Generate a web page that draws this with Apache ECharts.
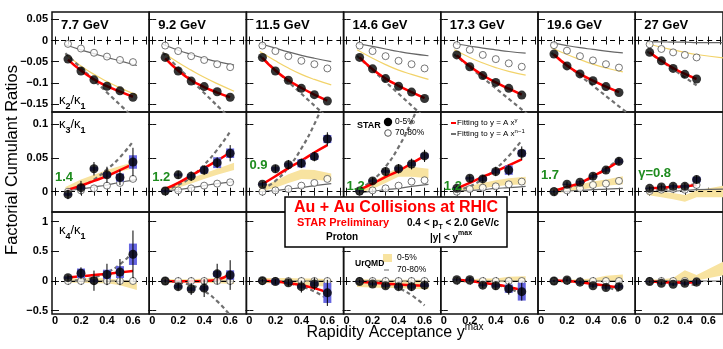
<!DOCTYPE html>
<html>
<head>
<meta charset="utf-8">
<script src="https://cdn.jsdelivr.net/npm/echarts@6/dist/echarts.min.js"></script>
<style>
html, body { margin: 0; background: #fff; }
#chart { width: 723px; height: 349px; }
</style>
</head>
<body>
<div id="chart"></div>
<script>
// collision energies (columns) and fitted exponents shown in the middle row
const energies = ['7.7 GeV', '9.2 GeV', '11.5 GeV', '14.6 GeV', '17.3 GeV', '19.6 GeV', '27 GeV'];
const gammaLabels = ['1.4', '1.2', '0.9', '1.2', '1.2', '1.7', 'γ=0.8'];

// rapidity acceptance points
const yMaxPoints = [0.1, 0.2, 0.3, 0.4, 0.5, 0.6];
const urqmdX = [0.08, 0.2, 0.3, 0.4, 0.5, 0.63];
const urqmdX27 = [0.08, 0.2, 0.3, 0.4, 0.5, 0.73];
const k21PowerX = [0.08, 0.7];
const k21PowerX27 = [0.08, 0.5];

// axis ticks
const xTicks = [0, 0.1, 0.2, 0.3, 0.4, 0.5, 0.6, 0.7];
const xLabels = [0, 0.2, 0.4, 0.6];
const yTicks = [[-0.15, -0.1, -0.05, 0, 0.05], [0, 0.05, 0.1], [-0.5, 0, 0.5, 1]];

// ---- kappa2 / kappa1 ----
const k21Central = [
  [-0.044, -0.072, -0.093, -0.108, -0.119, -0.134],
  [-0.040, -0.072, -0.096, -0.109, -0.121, -0.134],
  [-0.040, -0.072, -0.094, -0.113, -0.128, -0.143],
  [-0.040, -0.067, -0.090, -0.108, -0.122, -0.137],
  [-0.034, -0.062, -0.083, -0.099, -0.113, -0.129],
  [-0.032, -0.060, -0.079, -0.095, -0.109, -0.123],
  [-0.028, -0.048, -0.066, -0.080, -0.091]
];
const k21Peripheral = [
  [-0.008, -0.019, -0.029, -0.038, -0.046, -0.051],
  [-0.012, -0.025, -0.037, -0.046, -0.056, -0.063],
  [-0.012, -0.025, -0.037, -0.048, -0.056, -0.066],
  [-0.012, -0.025, -0.037, -0.048, -0.056, -0.066],
  [-0.011, -0.022, -0.034, -0.044, -0.054, -0.062],
  [-0.011, -0.024, -0.037, -0.047, -0.056, -0.064],
  [-0.009, -0.020, -0.028, -0.034, -0.040]
];
const k21Fit = [
  [-0.045, -0.071, -0.092, -0.108, -0.121, -0.133],
  [-0.042, -0.071, -0.094, -0.110, -0.123, -0.134],
  [-0.041, -0.071, -0.094, -0.112, -0.128, -0.142],
  [-0.040, -0.068, -0.090, -0.107, -0.122, -0.136],
  [-0.035, -0.061, -0.082, -0.099, -0.114, -0.128],
  [-0.033, -0.059, -0.079, -0.095, -0.109, -0.122],
  [-0.028, -0.048, -0.065, -0.079, -0.091]
];
const k21Power = [
  [-0.030, -0.210], [-0.028, -0.214], [-0.036, -0.210], [-0.036, -0.210],
  [-0.033, -0.188], [-0.029, -0.180], [-0.026, -0.106]
];
const k21UrqmdPeri = [
  [-0.010, -0.022, -0.031, -0.040, -0.048, -0.059],
  [-0.009, -0.023, -0.033, -0.042, -0.050, -0.058],
  [-0.007, -0.018, -0.027, -0.035, -0.042, -0.050],
  [-0.007, -0.014, -0.020, -0.026, -0.031, -0.036],
  [-0.007, -0.013, -0.018, -0.022, -0.026, -0.030],
  [-0.005, -0.012, -0.017, -0.021, -0.025, -0.029],
  [-0.003, -0.003, -0.004, -0.004, -0.005, -0.005]
];
const k21UrqmdCentral = [
  [-0.032, -0.060, -0.080, -0.097, -0.112, -0.129],
  [-0.028, -0.052, -0.070, -0.087, -0.102, -0.120],
  [-0.026, -0.048, -0.065, -0.080, -0.092, -0.105],
  [-0.022, -0.042, -0.057, -0.070, -0.080, -0.092],
  [-0.022, -0.040, -0.053, -0.064, -0.073, -0.082],
  [-0.017, -0.033, -0.045, -0.056, -0.065, -0.074],
  [-0.007, -0.016, -0.022, -0.028, -0.033, -0.041]
];

// ---- kappa3 / kappa1 ----
const k31Central = [
  [-0.004, 0.006, 0.034, 0.025, 0.021, 0.044],
  [0.001, 0.025, 0.023, 0.032, 0.043, 0.057],
  [0.011, 0.034, 0.040, 0.042, 0.052, 0.078],
  [0.001, 0.016, 0.030, 0.034, 0.041, 0.053],
  [0.005, 0.020, 0.019, 0.030, 0.032, 0.057],
  [0.000, 0.011, 0.014, 0.023, 0.032, 0.045],
  [0.005, 0.007, 0.008, 0.008, 0.018]
];
const k31Stat = [
  [0.007, 0.010, 0.010, 0.012, 0.011, 0.021],
  [0.004, 0.006, 0.007, 0.007, 0.008, 0.012],
  [0.004, 0.006, 0.007, 0.007, 0.007, 0.010],
  [0.004, 0.005, 0.006, 0.007, 0.008, 0.009],
  [0.004, 0.005, 0.006, 0.007, 0.008, 0.010],
  [0.003, 0.004, 0.004, 0.005, 0.005, 0.006],
  [0.003, 0.004, 0.004, 0.005, 0.006]
];
const k31Sys = [
  [0.002, 0.003, 0.003, 0.004, 0.006, 0.010],
  [0.002, 0.002, 0.003, 0.005, 0.008, 0.007],
  [0.002, 0.003, 0.003, 0.006, 0.005, 0.006],
  [0.001, 0.002, 0.002, 0.003, 0.003, 0.004],
  [0.002, 0.002, 0.003, 0.003, 0.007, 0.005],
  [0.001, 0.001, 0.002, 0.002, 0.002, 0.003],
  [0.001, 0.001, 0.002, 0.002, 0.004]
];
const k31Peripheral = [
  [0.000, 0.002, 0.005, 0.009, 0.013, 0.019],
  [0.001, 0.002, 0.005, 0.009, 0.012, 0.014],
  [0.000, 0.002, 0.004, 0.009, 0.013, 0.019],
  [0.000, 0.002, 0.005, 0.009, 0.015, 0.017],
  [0.000, 0.004, 0.006, 0.008, 0.011, 0.015],
  [0.001, 0.002, 0.005, 0.010, 0.012, 0.016],
  [0.001, 0.003, 0.004, 0.003, 0.010]
];
const k31Fit = [
  [0.003, 0.009, 0.016, 0.023, 0.032, 0.041],
  [0.004, 0.013, 0.024, 0.035, 0.046, 0.058],
  [0.011, 0.023, 0.035, 0.046, 0.058, 0.069],
  [0.003, 0.012, 0.022, 0.031, 0.042, 0.053],
  [0.005, 0.013, 0.022, 0.030, 0.039, 0.048],
  [0.001, 0.007, 0.013, 0.023, 0.033, 0.045],
  [0.005, 0.006, 0.007, 0.008, 0.010]
];
const k31Power = [
  [0.002, 0.008, 0.018, 0.033, 0.051, 0.074],
  [0.0025, 0.010, 0.022, 0.040, 0.062, 0.089],
  [0.004, 0.016, 0.036, 0.064, 0.100, 0.144],
  [0.004, 0.017, 0.037, 0.066, 0.104, 0.149],
  [0.002, 0.008, 0.019, 0.034, 0.053, 0.076],
  [0.001, 0.005, 0.012, 0.022, 0.034, 0.049],
  [0.001, 0.003, 0.005, 0.008, 0.012]
];
const k31UrqmdPeri = [
  [0.001, 0.004, 0.007, 0.010, 0.014, 0.018],
  [0.001, 0.003, 0.006, 0.009, 0.012, 0.015],
  [0.000, 0.002, 0.004, 0.006, 0.009, 0.012],
  [-0.002, 0.001, 0.003, 0.005, 0.008, 0.011],
  [0.000, 0.002, 0.003, 0.005, 0.006, 0.008],
  [0.000, 0.001, 0.002, 0.003, 0.004, 0.005],
  [0.000, 0.001, 0.001, 0.002, 0.003, 0.004]
];
const k31UrqmdLow = [
  [0.000, 0.010, 0.017, 0.024, 0.030, 0.036],
  [0.000, 0.006, 0.012, 0.019, 0.025, 0.032],
  [0.000, 0.006, 0.013, 0.019, 0.018, 0.015],
  [-0.003, 0.004, 0.013, 0.022, 0.022, 0.020],
  [-0.002, 0.002, 0.005, 0.008, 0.010, 0.011],
  [-0.003, 0.000, 0.003, 0.006, 0.009, 0.011],
  [-0.005, -0.008, -0.011, -0.015, -0.008, -0.008]
];
const k31UrqmdHigh = [
  [0.007, 0.018, 0.025, 0.032, 0.038, 0.045],
  [0.006, 0.013, 0.020, 0.027, 0.034, 0.043],
  [0.007, 0.016, 0.026, 0.033, 0.032, 0.027],
  [0.003, 0.014, 0.026, 0.036, 0.037, 0.034],
  [0.004, 0.009, 0.013, 0.017, 0.020, 0.022],
  [0.004, 0.007, 0.011, 0.015, 0.018, 0.023],
  [0.002, 0.000, -0.002, -0.005, 0.002, 0.009]
];

// ---- kappa4 / kappa1 ----
const k41Central = [
  [0.056, 0.13, 0.005, 0.11, 0.15, 0.45],
  [0.0, -0.095, -0.135, -0.12, 0.12, 0.10],
  [0.005, -0.01, -0.03, -0.095, -0.05, -0.20],
  [-0.01, -0.05, -0.08, -0.095, -0.095, -0.07],
  [0.02, 0.02, -0.07, -0.08, -0.13, -0.18],
  [0.0, 0.017, -0.02, -0.08, -0.11, -0.095],
  [-0.01, -0.04, -0.055, -0.04, -0.02]
];
const k41Stat = [
  [0.05, 0.10, 0.17, 0.18, 0.22, 0.40],
  [0.03, 0.06, 0.10, 0.15, 0.17, 0.25],
  [0.03, 0.04, 0.06, 0.10, 0.10, 0.22],
  [0.03, 0.04, 0.05, 0.06, 0.07, 0.08],
  [0.03, 0.04, 0.05, 0.07, 0.10, 0.15],
  [0.02, 0.03, 0.03, 0.04, 0.05, 0.06],
  [0.02, 0.03, 0.03, 0.04, 0.05]
];
const k41Sys = [
  [0.02, 0.08, 0.03, 0.08, 0.10, 0.18],
  [0.01, 0.03, 0.03, 0.04, 0.05, 0.08],
  [0.01, 0.05, 0.02, 0.03, 0.04, 0.17],
  [0.01, 0.02, 0.02, 0.02, 0.03, 0.03],
  [0.01, 0.02, 0.02, 0.03, 0.07, 0.15],
  [0.01, 0.01, 0.02, 0.02, 0.02, 0.03],
  [0.01, 0.01, 0.02, 0.02, 0.03]
];
const k41Peripheral = [
  [0, 0, 0, 0, 0, 0], [0, 0, 0, 0, 0, 0], [0, 0, 0, 0, 0, 0], [0, 0, 0, 0, 0, 0],
  [0, 0, 0, 0, 0, 0], [0, 0, 0, 0, 0, 0], [0, 0, 0, 0, 0]
];
const k41Fit = [
  [0.06, 0.08, 0.10, 0.12, 0.145, 0.17],
  [0.0, -0.005, -0.005, 0.0, 0.02, 0.12],
  [0.003, -0.01, -0.035, -0.07, -0.12, -0.19],
  [-0.01, -0.03, -0.045, -0.06, -0.07, -0.08],
  [0.02, 0.0, -0.03, -0.06, -0.10, -0.15],
  [0.01, 0.0, -0.02, -0.05, -0.08, -0.11],
  [-0.01, -0.02, -0.025, -0.025, -0.02]
];
const k41Power = [
  [0.002, 0.018, 0.061, 0.145, 0.28, 0.49],
  [-0.003, -0.022, -0.073, -0.17, -0.34, -0.58],
  [-0.001, -0.011, -0.038, -0.09, -0.175, -0.30],
  [-0.002, -0.015, -0.05, -0.12, -0.24, -0.41],
  [-0.001, -0.008, -0.027, -0.064, -0.125, -0.22],
  [-0.001, -0.006, -0.022, -0.05, -0.10, -0.17],
  [-0.001, -0.005, -0.016, -0.04, -0.075]
];
const k41UrqmdPeri = [
  [0, 0, 0, 0, 0, 0], [0, 0, 0, 0, 0, 0], [0, 0, 0, 0, 0, 0], [0, 0, 0, 0, 0, 0],
  [0, 0, 0, 0, 0, 0], [0, 0, 0, 0, 0, 0], [0, 0, 0, 0, 0, 0]
];
const k41UrqmdLow = [
  [-0.03, -0.03, -0.04, -0.04, -0.07, -0.15],
  [-0.03, -0.03, -0.03, -0.03, -0.04, -0.05],
  [-0.04, -0.04, -0.05, -0.06, -0.08, -0.10],
  [-0.10, -0.11, -0.12, -0.12, -0.13, -0.14],
  [-0.02, -0.02, -0.02, -0.02, -0.02, -0.01],
  [-0.02, -0.02, -0.02, -0.02, -0.01, 0.0],
  [-0.02, -0.02, -0.01, 0.0, 0.01, 0.10]
];
const k41UrqmdHigh = [
  [0.04, 0.04, 0.05, 0.04, 0.02, 0.00],
  [0.03, 0.03, 0.03, 0.04, 0.05, 0.07],
  [0.05, 0.05, 0.05, 0.04, 0.04, 0.03],
  [0.03, 0.03, 0.02, 0.02, 0.02, 0.02],
  [0.03, 0.03, 0.04, 0.04, 0.07, 0.08],
  [0.02, 0.02, 0.03, 0.04, 0.09, 0.11],
  [0.02, 0.03, 0.05, 0.18, 0.10, 0.33]
];

// ---- layout ----
const FONT = 'Liberation Sans';
const PANEL_LEFT = 52, PANEL_W = 97.2;
const ROW_TOP = [12, 112, 212], ROW_H = [100, 100, 102];
const X_RANGE = [-0.023, 0.725];
const Y_RANGE = [[-0.169, 0.0674], [-0.030, 0.118], [-0.556, 1.162]];
const GAMMA_Y = [177, 177, 165, 186, 186, 175, 173];

const rows = [
  { central: k21Central, stat: null, sys: null, peri: k21Peripheral, fit: k21Fit, power: k21Power,
    uPeri: k21UrqmdPeri, uLine: k21UrqmdCentral },
  { central: k31Central, stat: k31Stat, sys: k31Sys, peri: k31Peripheral, fit: k31Fit, power: k31Power,
    uPeri: k31UrqmdPeri, uLow: k31UrqmdLow, uHigh: k31UrqmdHigh },
  { central: k41Central, stat: k41Stat, sys: k41Sys, peri: k41Peripheral, fit: k41Fit, power: k41Power,
    uPeri: k41UrqmdPeri, uLow: k41UrqmdLow, uHigh: k41UrqmdHigh }
];

function fmtNum(v) {
  return v < 0 ? '\u2212' + String(-v) : String(v);
}

function pairs(xs, ys) {
  return ys.map((y, i) => [xs[i], y]);
}

const grids = [], xAxes = [], yAxes = [], series = [];

function bandSeries(gi, bx, lo, hi) {
  return {
    type: 'custom', xAxisIndex: 2 * gi, yAxisIndex: 2 * gi, z: 1, silent: true,
    data: bx.map((x, i) => [x, lo[i], hi[i]]),
    renderItem: function (params, api) {
      if (params.dataIndex !== 0) return;
      const pts = [];
      for (let i = 0; i < bx.length; i++) pts.push(api.coord([bx[i], hi[i]]));
      for (let i = bx.length - 1; i >= 0; i--) pts.push(api.coord([bx[i], lo[i]]));
      const cs = params.coordSys;
      return {
        type: 'polygon', shape: { points: pts }, style: { fill: '#f8e3a0' },
        clipPath: { type: 'rect', shape: { x: cs.x, y: cs.y, width: cs.width, height: cs.height } }
      };
    }
  };
}

function errSeries(gi, xs, val, err) {
  return {
    type: 'custom', xAxisIndex: 2 * gi, yAxisIndex: 2 * gi, z: 7, silent: true,
    data: val.map((v, i) => [xs[i], v - err[i], v + err[i]]),
    renderItem: function (params, api) {
      const a = api.coord([api.value(0), api.value(1)]);
      const b = api.coord([api.value(0), api.value(2)]);
      return { type: 'line', shape: { x1: a[0], y1: a[1], x2: b[0], y2: b[1] },
        style: { stroke: '#000', lineWidth: 1 } };
    }
  };
}

function sysSeries(gi, xs, val, sys) {
  return {
    type: 'custom', xAxisIndex: 2 * gi, yAxisIndex: 2 * gi, z: 6, silent: true,
    data: val.map((v, i) => [xs[i], v - sys[i], v + sys[i]]),
    renderItem: function (params, api) {
      const a = api.coord([api.value(0), api.value(1)]);
      const b = api.coord([api.value(0), api.value(2)]);
      return { type: 'rect', shape: { x: a[0] - 4, y: b[1], width: 8, height: a[1] - b[1] },
        style: { fill: '#6565e0' } };
    }
  };
}

for (let r = 0; r < 3; r++) {
  const row = rows[r];
  for (let c = 0; c < 7; c++) {
    const gi = r * 7 + c;
    grids.push({
      left: PANEL_LEFT + c * PANEL_W, top: ROW_TOP[r], width: PANEL_W, height: ROW_H[r],
      show: true, borderColor: '#111', borderWidth: 1.5, backgroundColor: 'transparent'
    });
    const tickStyle = { show: true, inside: true, length: 4, lineStyle: { color: '#111', width: 1 } };
    xAxes.push({
      type: 'value', gridIndex: gi, position: 'bottom', min: X_RANGE[0], max: X_RANGE[1],
      axisLine: { show: false }, splitLine: { show: false },
      axisTick: Object.assign({ customValues: xTicks }, tickStyle),
      axisLabel: {
        show: r === 2, customValues: xLabels, margin: 1, formatter: fmtNum,
        fontFamily: FONT, fontWeight: 'bold', fontSize: 11, color: '#000'
      }
    });
    xAxes.push({
      type: 'value', gridIndex: gi, position: 'top', min: X_RANGE[0], max: X_RANGE[1],
      axisLine: { show: false }, splitLine: { show: false },
      axisTick: Object.assign({ customValues: xTicks }, tickStyle),
      axisLabel: { show: false }
    });
    yAxes.push({
      type: 'value', gridIndex: gi, position: 'left', min: Y_RANGE[r][0], max: Y_RANGE[r][1],
      axisLine: { show: false }, splitLine: { show: false },
      axisTick: Object.assign({ customValues: yTicks[r] }, tickStyle),
      axisLabel: {
        show: c === 0, customValues: yTicks[r], margin: 4, formatter: fmtNum,
        fontFamily: FONT, fontWeight: 'bold', fontSize: 11, color: '#000'
      }
    });
    yAxes.push({
      type: 'value', gridIndex: gi, position: 'right', min: Y_RANGE[r][0], max: Y_RANGE[r][1],
      axisLine: { show: false }, splitLine: { show: false },
      axisTick: Object.assign({ customValues: yTicks[r] }, tickStyle),
      axisLabel: { show: false }
    });

    const ax = { xAxisIndex: 2 * gi, yAxisIndex: 2 * gi };
    const ux = c === 6 ? urqmdX27 : urqmdX;
    const xs = yMaxPoints.slice(0, row.central[c].length);

    // UrQMD 0-5%
    if (row.uLine) {
      series.push(Object.assign({
        type: 'line', data: pairs(ux, row.uLine[c]), showSymbol: false, smooth: true, z: 1,
        lineStyle: { color: '#f2d36a', width: 1.2 }, silent: true
      }, ax));
    } else {
      series.push(bandSeries(gi, ux, row.uLow[c], row.uHigh[c]));
    }
    // UrQMD 70-80% + zero reference
    series.push(Object.assign({
      type: 'line', data: pairs(ux, row.uPeri[c]), showSymbol: false, smooth: true, z: 2,
      lineStyle: { color: '#666', width: 1.2 }, silent: true,
      markLine: {
        silent: true, symbol: 'none', label: { show: false },
        lineStyle: { color: '#000', type: [5, 4], width: 1 },
        data: [{ yAxis: 0 }]
      }
    }, ax));
    // power-law fit y = A x^(n-1)
    const px = r === 0 ? (c === 6 ? k21PowerX27 : k21PowerX) : xs;
    series.push(Object.assign({
      type: 'line', data: pairs(px, row.power[c]), showSymbol: false, smooth: true, z: 3,
      lineStyle: { color: '#707070', width: 2.2, type: [4, 3] }, silent: true
    }, ax));
    // fit y = A x^gamma
    series.push(Object.assign({
      type: 'line', data: pairs(xs, row.fit[c]), showSymbol: false, smooth: true, z: 4,
      lineStyle: { color: '#ff0000', width: 2.5 }, silent: true
    }, ax));
    // 70-80% data
    series.push(Object.assign({
      type: 'scatter', data: pairs(xs, row.peri[c]), symbol: 'circle', symbolSize: 7, z: 5,
      itemStyle: { color: '#fff', borderColor: '#555', borderWidth: 1 }, silent: true
    }, ax));
    if (row.sys) series.push(sysSeries(gi, xs, row.central[c], row.sys[c]));
    if (row.stat) series.push(errSeries(gi, xs, row.central[c], row.stat[c]));
    // 0-5% data
    series.push(Object.assign({
      type: 'scatter', data: pairs(xs, row.central[c]), symbol: 'circle', symbolSize: 9, z: 8,
      itemStyle: { color: '#000' }, silent: true
    }, ax));
  }
}

// ---- annotations ----
const Z = 100;
function txt(x, y, text, size, opts) {
  return {
    type: 'text', x: x, y: y, z: Z + 1,
    style: Object.assign({
      text: text, fontFamily: FONT, fontSize: size, fill: '#000',
      align: 'left', textAlign: 'left', verticalAlign: 'middle', textVerticalAlign: 'middle'
    }, opts || {})
  };
}
function richTxt(x, y, text, rich, align) {
  return {
    type: 'text', x: x, y: y, z: Z + 1,
    style: {
      text: text, rich: rich, fontFamily: FONT,
      align: align || 'left', textAlign: align || 'left', verticalAlign: 'middle', textVerticalAlign: 'middle'
    }
  };
}

const graphics = [];
energies.forEach((e, c) => {
  graphics.push(txt(PANEL_LEFT + c * PANEL_W + 9, 25, e, 13, { fontWeight: 'bold' }));
});
gammaLabels.forEach((g, c) => {
  graphics.push(txt(PANEL_LEFT + c * PANEL_W + 3, GAMMA_Y[c], g, 13, { fontWeight: 'bold', fill: '#1e8c1e' }));
});

const kapRich = {
  k: { fontFamily: FONT, fontSize: 13, lineHeight: 22, verticalAlign: 'middle', fill: '#000' },
  s: { fontFamily: FONT, fontSize: 9, fontWeight: 'bold', lineHeight: 9, verticalAlign: 'bottom', fill: '#000' }
};
graphics.push(richTxt(59, 100, '{k|κ}{s|2}{k|/κ}{s|1}', kapRich));
graphics.push(richTxt(59, 124, '{k|κ}{s|3}{k|/κ}{s|1}', kapRich));
graphics.push(richTxt(59, 230, '{k|κ}{s|4}{k|/κ}{s|1}', kapRich));

// axis titles
graphics.push({
  type: 'text', x: 12, y: 160, rotation: Math.PI / 2, z: Z,
  style: { text: 'Factorial Cumulant Ratios', fontFamily: FONT, fontSize: 16.5, fill: '#000',
    align: 'center', textAlign: 'center', verticalAlign: 'middle', textVerticalAlign: 'middle' }
});
graphics.push(richTxt(395, 333, '{a|Rapidity Acceptance y}{s|max}', {
  a: { fontFamily: FONT, fontSize: 16, lineHeight: 22, verticalAlign: 'middle', fill: '#000' },
  s: { fontFamily: FONT, fontSize: 10, lineHeight: 10, verticalAlign: 'top', fill: '#000' }
}, 'center'));

// STAR legend
graphics.push(txt(357, 126, 'STAR', 9, { fontWeight: 'bold' }));
graphics.push({ type: 'circle', z: Z, shape: { cx: 388, cy: 122, r: 4.2 }, style: { fill: '#000' } });
graphics.push(txt(395, 122, '0-5%', 8.5));
graphics.push({ type: 'circle', z: Z, shape: { cx: 388, cy: 133, r: 3.3 }, style: { fill: '#fff', stroke: '#555', lineWidth: 1 } });
graphics.push(txt(395, 133, '70-80%', 8.5));

// fit legend
const supRich = {
  a: { fontFamily: FONT, fontSize: 8, lineHeight: 12, verticalAlign: 'middle', fill: '#000' },
  s: { fontFamily: FONT, fontSize: 6, lineHeight: 6, verticalAlign: 'top', fill: '#000' }
};
graphics.push({ type: 'line', z: Z, shape: { x1: 451, y1: 123, x2: 456, y2: 123 }, style: { stroke: '#ff0000', lineWidth: 2 } });
graphics.push(richTxt(457, 123, '{a|Fitting to y = A x}{s|γ}', supRich));
graphics.push({ type: 'line', z: Z, shape: { x1: 451, y1: 134, x2: 456, y2: 134 }, style: { stroke: '#707070', lineWidth: 2 } });
graphics.push(richTxt(457, 134, '{a|Fitting to y = A x}{s|n−1}', supRich));

// title box
graphics.push({ type: 'rect', z: Z, shape: { x: 285, y: 197, width: 222, height: 50 },
  style: { fill: '#fff', stroke: '#000', lineWidth: 1.5 } });
graphics.push(txt(396, 208, 'Au + Au Collisions at RHIC', 16,
  { fontWeight: 'bold', fill: '#ff0000', align: 'center', textAlign: 'center' }));
graphics.push(txt(297, 223, 'STAR Preliminary', 11, { fontWeight: 'bold', fill: '#ff0000' }));
graphics.push(richTxt(407, 223, '{a|0.4 < p}{b|T}{a| < 2.0 GeV/c}', {
  a: { fontFamily: FONT, fontSize: 10, fontWeight: 'bold', lineHeight: 16, verticalAlign: 'middle', fill: '#000' },
  b: { fontFamily: FONT, fontSize: 7, fontWeight: 'bold', lineHeight: 7, verticalAlign: 'bottom', fill: '#000' }
}));
graphics.push(txt(326, 237, 'Proton', 10, { fontWeight: 'bold' }));
graphics.push(richTxt(430, 238, '{a||y| < y}{s|max}', {
  a: { fontFamily: FONT, fontSize: 10, fontWeight: 'bold', lineHeight: 16, verticalAlign: 'middle', fill: '#000' },
  s: { fontFamily: FONT, fontSize: 7, fontWeight: 'bold', lineHeight: 7, verticalAlign: 'top', fill: '#000' }
}));

// UrQMD legend
graphics.push(txt(355, 264, 'UrQMD', 8.5, { fontWeight: 'bold' }));
graphics.push({ type: 'rect', z: Z, shape: { x: 383, y: 254, width: 9, height: 8 }, style: { fill: '#f8e3a0' } });
graphics.push(txt(397, 258, '0-5%', 8.5));
graphics.push({ type: 'line', z: Z, shape: { x1: 384, y1: 270, x2: 389, y2: 270 }, style: { stroke: '#666', lineWidth: 1 } });
graphics.push(txt(397, 270, '70-80%', 8.5));

const chart = echarts.init(document.getElementById('chart'));
chart.setOption({
  animation: false,
  backgroundColor: '#fff',
  grid: grids,
  xAxis: xAxes,
  yAxis: yAxes,
  series: series,
  graphic: { elements: graphics }
});
</script>
</body>
</html>
